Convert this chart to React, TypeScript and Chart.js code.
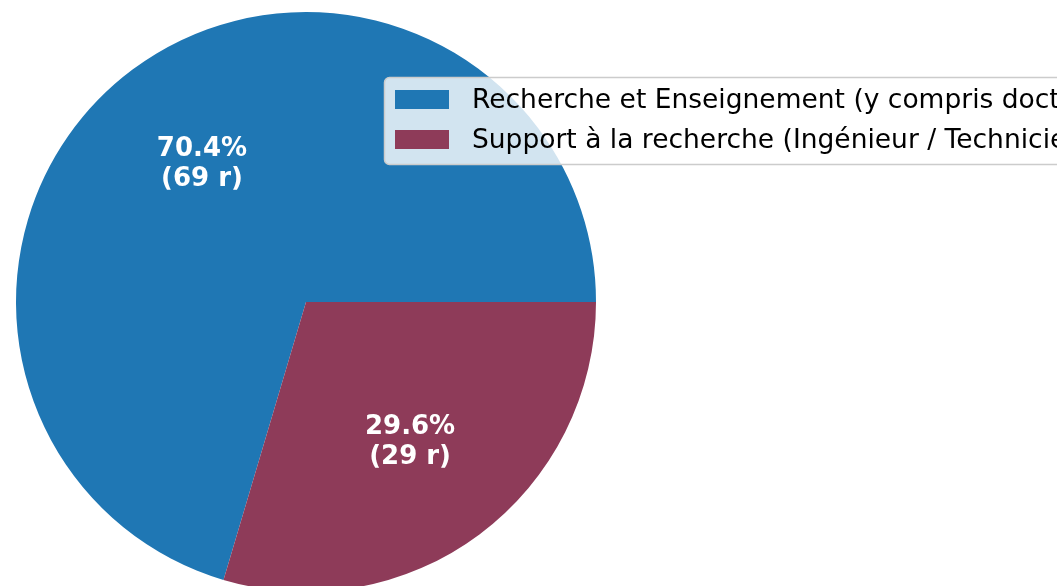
import React, { useEffect, useRef } from "react";
import { Chart, registerables } from "chart.js";

Chart.register(...registerables);

const categories = [
  "Recherche et Enseignement (y compris doctorants)",
  "Support à la recherche (Ingénieur / Technicien)",
];
const counts = [69, 29];
const colors = ["#1f77b4", "#8e3b59"];

const total = counts.reduce((a, b) => a + b, 0);
const FONT = '"DejaVu Sans", sans-serif';

const labelPlugin = {
  id: "pctLabels",
  afterDatasetsDraw(chart: any) {
    const ctx = chart.ctx;
    const meta = chart.getDatasetMeta(0);
    ctx.save();
    ctx.fillStyle = "#ffffff";
    ctx.font = `bold 26px ${FONT}`;
    ctx.textAlign = "center";
    ctx.textBaseline = "alphabetic";
    meta.data.forEach((arc: any, i: number) => {
      const { x, y, startAngle, endAngle, outerRadius } = arc.getProps(
        ["x", "y", "startAngle", "endAngle", "outerRadius"],
        true
      );
      const mid = (startAngle + endAngle) / 2;
      const r = outerRadius * 0.6;
      const cx = x + Math.cos(mid) * r;
      const cy = y + Math.sin(mid) * r;
      const pct = ((counts[i] / total) * 100).toFixed(1) + "%";
      ctx.fillText(pct, cx, cy - 7);
      ctx.fillText(`(${counts[i]} r)`, cx, cy + 23);
    });
    ctx.restore();
  },
};

const legendPlugin = {
  id: "customLegend",
  afterDraw(chart: any) {
    const ctx = chart.ctx;
    ctx.save();
    const x0 = 384.5, y0 = 77.5, w = 800, h = 87;
    ctx.beginPath();
    (ctx as any).roundRect(x0, y0, w, h, 5);
    ctx.fillStyle = "rgba(255,255,255,0.8)";
    ctx.fill();
    ctx.strokeStyle = "#cccccc";
    ctx.lineWidth = 1.5;
    ctx.stroke();
    ctx.font = `26.5px ${FONT}`;
    ctx.textBaseline = "alphabetic";
    ctx.textAlign = "left";
    categories.forEach((c, i) => {
      const yy = 90 + i * 40;
      ctx.fillStyle = colors[i];
      ctx.fillRect(395, yy, 54, 19);
      ctx.fillStyle = "#000000";
      ctx.fillText(c, 472, yy + 18);
    });
    ctx.restore();
  },
};

export default function App() {
  const ref = useRef<HTMLCanvasElement>(null);
  useEffect(() => {
    if (!ref.current) return;
    const rotation = 90 + (360 * counts[1]) / total;
    const chart = new Chart(ref.current, {
      type: "pie",
      data: {
        labels: categories,
        datasets: [
          {
            data: counts,
            backgroundColor: colors,
            borderWidth: 0,
          },
        ],
      },
      options: {
        animation: false,
        responsive: false,
        rotation,
        layout: { padding: { left: 16, right: 467, top: 12, bottom: 8 } },
        plugins: {
          legend: { display: false },
          tooltip: { enabled: false },
        },
      },
      plugins: [labelPlugin, legendPlugin],
    });
    return () => chart.destroy();
  }, []);
  return (
    <div
      style={{
        position: "absolute",
        left: 0,
        top: 0,
        width: 1063,
        height: 586,
        background: "#fff",
      }}
    >
      <div style={{ width: 1057, height: 586, overflow: "hidden" }}>
        <canvas ref={ref} width={1063} height={600} style={{ display: "block" }} />
      </div>
    </div>
  );
}
